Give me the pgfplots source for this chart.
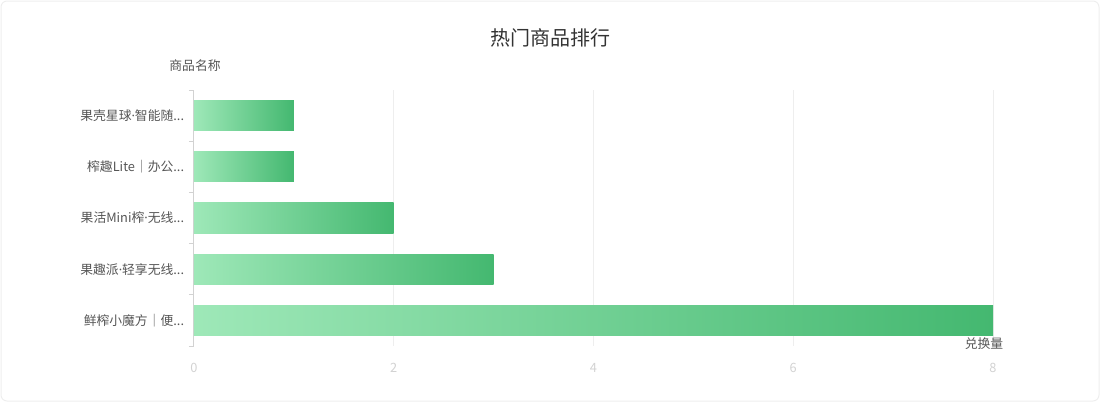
\documentclass[border=0pt]{standalone}
\usepackage{pgfplots}
\pgfplotsset{compat=1.18}
\usepackage{fontspec}
\setmainfont{Noto Sans CJK SC}
\newfontfamily\latinfont{Noto Sans}
\definecolor{barlight}{RGB}{158,232,184}
\definecolor{bardark}{RGB}{68,184,112}
\definecolor{txt}{RGB}{51,51,51}
\definecolor{lbl}{RGB}{85,85,85}
\definecolor{tck}{RGB}{210,210,210}
\definecolor{grd}{RGB}{238,238,238}
\newcommand{\dd}{.\relax.\relax.}
\newcommand{\md}{{\latinfont ·}}
\tikzset{gbar/.style={xbar, bar width=0.59, bar shift=0pt,
    draw=none, left color=barlight, right color=bardark}}
\begin{document}
\begin{tikzpicture}
\useasboundingbox (0,0) rectangle (550pt,-201pt);
\draw[rounded corners=3pt, color=grd, line width=0.5pt] (0.5pt,-0.5pt) rectangle (549.5pt,-200.5pt);
\node[font=\fontsize{10}{11}\selectfont, text=txt] at (275pt,-19pt) {热门商品排行};
\node[font=\fontsize{6.4}{7}\selectfont, text=lbl] at (97.5pt,-33pt) {商品名称};
\begin{axis}[
  at={(97pt,-173pt)}, anchor=south west,
  scale only axis, width=399.5pt, height=128pt,
  xmin=0, xmax=8, ymin=-0.5, ymax=4.5,
  xtick={0,2,4,6,8},
  ytick={0,1,2,3,4},
  yticklabels={{鲜榨小魔方｜便\dd}, {果趣派\md 轻享无线\dd}, {果活Mini榨\md 无线\dd}, {榨趣Lite｜办公\dd}, {果壳星球\md 智能随\dd}},
  minor ytick={-0.5,0.5,1.5,2.5,3.5,4.5},
  axis lines*=left,
  x axis line style={draw=none},
  y axis line style={draw=tck, line width=0.5pt},
  xmajorgrids, grid style={draw=grd, line width=0.5pt},
  major x tick style={draw=none},
  major y tick style={draw=none},
  minor y tick style={draw=tck, line width=0.5pt},
  minor tick length=2.5pt,
  tick align=outside,
  ticklabel style={font=\fontsize{6.4}{7}\selectfont},
  xticklabel style={text=tck, inner sep=0pt, yshift=-4pt},
  yticklabel style={text=lbl, inner sep=0pt, xshift=-0.5pt},
  /pgf/number format/assume math mode=true,
  clip=false,
]
\addplot[gbar] coordinates {(8,0)};
\addplot[gbar] coordinates {(3,1)};
\addplot[gbar] coordinates {(2,2)};
\addplot[gbar] coordinates {(1,3)};
\addplot[gbar] coordinates {(1,4)};
\end{axis}
\node[font=\fontsize{6.4}{7}\selectfont, text=lbl] at (492pt,-172pt) {兑换量};
\end{tikzpicture}
\end{document}
